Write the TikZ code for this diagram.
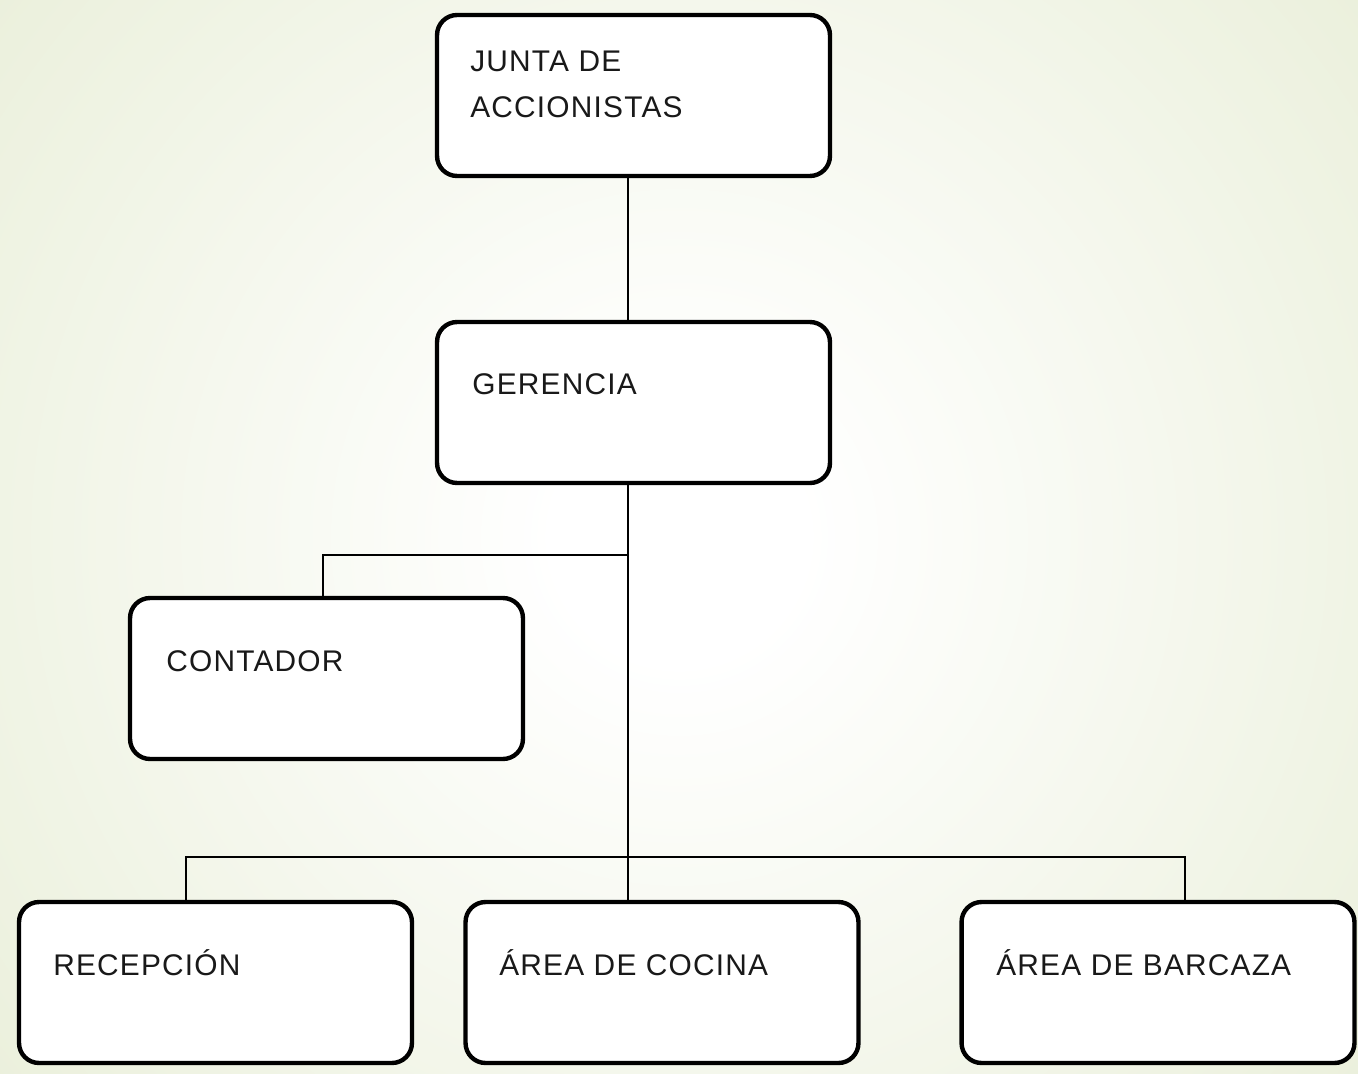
\documentclass[tikz,border=0pt]{standalone}
\usepackage{fontspec}
\setmainfont{Liberation Sans}[LetterSpace=4]
\definecolor{bggreen}{RGB}{235,240,220}
\pgfdeclareradialshading{bgshade}{\pgfpoint{0bp}{0bp}}{color(0bp)=(white); color(70bp)=(white); color(495bp)=(bggreen)}
\begin{document}
\begin{tikzpicture}[x=0.02cm,y=-0.02cm,
  box/.style={draw=black, line width=2.5pt, rounded corners=0.4cm, fill=white,
    minimum width=7.86cm, minimum height=3.22cm, inner sep=0pt},
  conn/.style={draw=black, line width=1.1pt},
  lbl/.style={anchor=base west, inner sep=0pt, text=black!90, font=\fontsize{17}{26}\selectfont}]
\useasboundingbox (0,0) rectangle (1358,1074);
\begin{scope}
  \clip (0,0) rectangle (1358,1074);
  \fill[bggreen] (0,0) rectangle (1358,1074);
  \node[inner sep=0pt] (bgshadenode) at (679,537) {\pgfuseshading{bgshade}};
\end{scope}
% boxes
\node[box] (junta) at (633.5,95.5) {};
\node[box] (gerencia) at (633.5,402.5) {};
\node[box] (contador) at (326.5,678.5) {};
\node[box] (recepcion) at (215.5,982.5) {};
\node[box] (cocina) at (662,982.5) {};
\node[box] (barcaza) at (1158,982.5) {};
% connector coordinates
\coordinate (trunk) at (628,0);
\coordinate (b1) at (628,555);
\coordinate (b2) at (628,857);
\coordinate (cx) at (323,0);
\coordinate (rx) at (186,0);
\coordinate (bx) at (1185,0);
% connectors
\draw[conn] (junta.south -| trunk) -- (gerencia.north -| trunk);
\draw[conn] (gerencia.south -| trunk) -- (cocina.north -| trunk);
\draw[conn] (b1) -- (cx |- b1) -- (contador.north -| cx);
\draw[conn] (recepcion.north -| rx) -- (rx |- b2) -- (bx |- b2) -- (barcaza.north -| bx);
% labels
\node[lbl] (t1a) at (470,72) {JUNTA DE};
\node[lbl] (t1b) at (470,118) {ACCIONISTAS};
\node[lbl] (t2) at (472,394) {GERENCIA};
\node[lbl] (t3) at (166,671) {CONTADOR};
\node[lbl] (t4) at (53,975) {RECEPCIÓN};
\node[lbl] (t5) at (499,975) {ÁREA DE COCINA};
\node[lbl] (t6) at (996,975) {ÁREA DE BARCAZA};
\end{tikzpicture}
\end{document}
